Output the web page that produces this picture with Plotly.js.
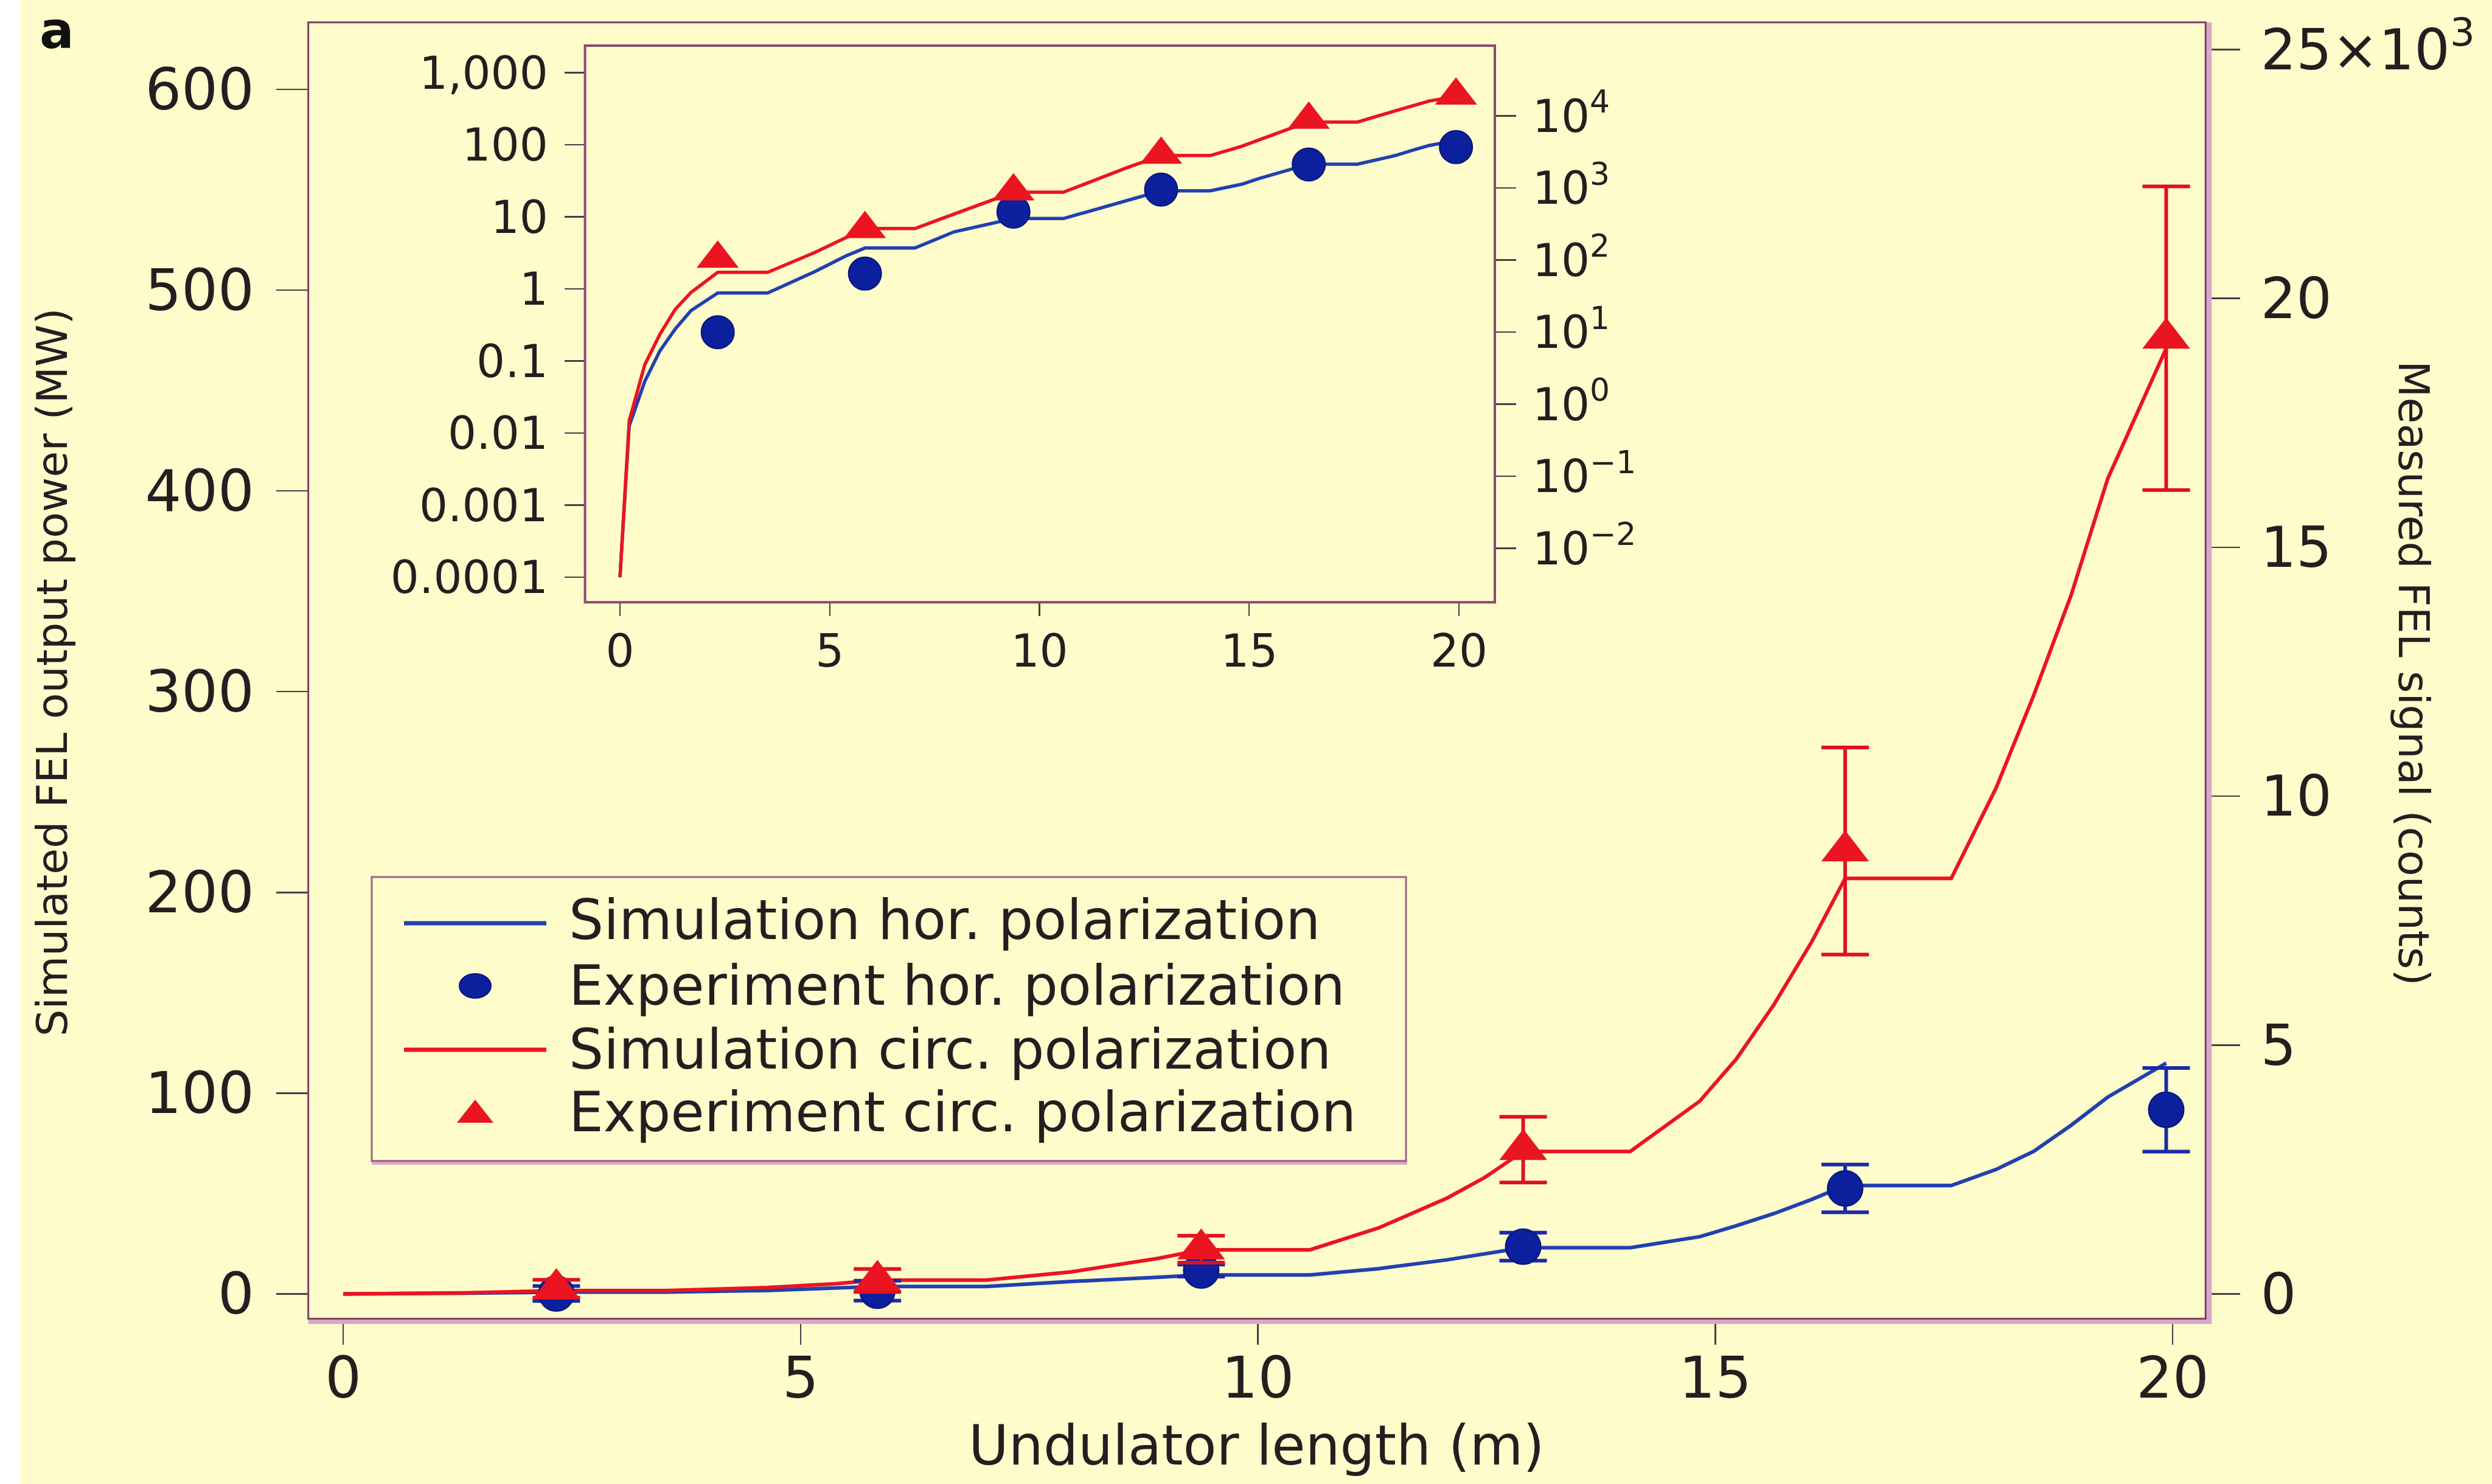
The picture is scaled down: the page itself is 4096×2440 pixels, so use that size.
<!DOCTYPE html>
<html>
<head>
<meta charset="utf-8">
<script src="https://cdn.plot.ly/plotly-3.0.1.min.js"></script>
<style>
  html, body { margin: 0; padding: 0; background: #fefccb; }
  #chart { width: 4096px; height: 2440px; }
</style>
</head>
<body>
<div id="chart"></div>
<script>
// ---- data -------------------------------------------------------------
// Undulator positions of the measurements (m)
const expLength = [2.33, 5.84, 9.38, 12.9, 16.42, 19.93];
// Measured FEL signal (counts) with error bars
const expHorCounts  = [10, 65, 470, 950, 2120, 3700];
const expHorError   = [150, 200, 120, 280, 480, 840];
const expCircCounts = [105, 270, 900, 2900, 8900, 19200];
const expCircError  = [180, 230, 270, 660, 2080, 3050];

// Simulated FEL output power along the undulator (MW)
const simLength = [0, 0.22, 0.59, 0.95, 1.32, 1.69, 2.33, 3.52, 4.64, 5.38, 5.84, 7.03,
                   7.96, 8.92, 9.38, 10.57, 11.32, 12.07, 12.48, 12.9, 14.07, 14.83, 15.23,
                   15.64, 16.05, 16.42, 17.58, 18.07, 18.48, 18.89, 19.29, 19.93];
const simHorMW  = [0.0001, 0.0126, 0.052, 0.138, 0.28, 0.50, 0.88, 0.88, 1.74, 2.87, 3.7, 3.7,
                   6.2, 8.3, 9.5, 9.5, 12.6, 17.0, 20.0, 23, 23, 28.5, 34,
                   40, 47, 54, 54, 62, 71, 84, 98, 115];
const simCircMW = [0.0001, 0.0148, 0.089, 0.234, 0.525, 0.89, 1.7, 1.7, 3.2, 5.1, 6.9, 6.9,
                   11, 17.8, 22, 22, 32.9, 47.8, 58, 71, 71, 96, 117,
                   144, 175, 207, 207, 252, 298, 348, 406, 471];

// Tick values and labels
const lengthTicks     = [0, 5, 10, 15, 20];
const powerTicks      = [0, 100, 200, 300, 400, 500, 600];
const signalTicks     = [0, 5000, 10000, 15000, 20000, 25000];
const signalTickText  = ['0', '5', '10', '15', '20', '25\u00d710<sup>3</sup>'];
const logPowerTicks   = [0.0001, 0.001, 0.01, 0.1, 1, 10, 100, 1000];
const logPowerText    = ['0.0001', '0.001', '0.01', '0.1', '1', '10', '100', '1,000'];
const logSignalTicks  = [0.01, 0.1, 1, 10, 100, 1000, 10000];
const logSignalText   = ['10<sup>\u22122</sup>', '10<sup>\u22121</sup>', '10<sup>0</sup>',
                         '10<sup>1</sup>', '10<sup>2</sup>', '10<sup>3</sup>', '10<sup>4</sup>'];
const legendLabels = ['Simulation hor. polarization', 'Experiment hor. polarization',
                      'Simulation circ. polarization', 'Experiment circ. polarization'];

// ---- styling ----------------------------------------------------------
const W = 4096, H = 2440;
const px = v => v / W;          // pixel -> paper x
const py = v => 1 - v / H;      // pixel (from top) -> paper y
const FONT = 'DejaVu Sans, Noto Sans, sans-serif';
const INK = '#231f20';
const TICK = '#4b3a44';
const FRAME = '#7b3f62';
const SHADOW = '#d8a8c8';
const BG = '#fefccb';
const RED = '#ea1520';
const BLUE_LINE = '#2140b0';
const BLUE_MARK = '#0c209e';

const mainBox  = {x0: 506.7, x1: 3625.3, y0: 36.7, y1: 2168.2};
const insetBox = {x0: 961.6, x1: 2457.0, y0: 75.0, y1: 990.3};
const legBox   = {x0: 611, x1: 2311, y0: 1442, y1: 1909};

function axisBase(extra) {
  return Object.assign({
    showgrid: false, zeroline: false, showline: false,
    ticks: 'outside', tickwidth: 2.5, tickcolor: TICK,
    tickmode: 'array', fixedrange: true
  }, extra);
}

// ---- traces -----------------------------------------------------------
const traces = [
  // main panel, linear scale
  {x: simLength, y: simHorMW, xaxis: 'x', yaxis: 'y', mode: 'lines',
   line: {color: BLUE_LINE, width: 6}, showlegend: false},
  {x: simLength, y: simCircMW, xaxis: 'x', yaxis: 'y', mode: 'lines',
   line: {color: RED, width: 6}, showlegend: false},
  {x: expLength, y: expHorCounts, xaxis: 'x', yaxis: 'y2', mode: 'markers',
   marker: {symbol: 'circle', size: 58, color: BLUE_MARK, line: {color: '#06157a', width: 2}},
   error_y: {type: 'data', array: expHorError, visible: true, color: '#1a2aa8', thickness: 6, width: 39},
   showlegend: false},
  {x: expLength, y: expCircCounts, xaxis: 'x', yaxis: 'y2', mode: 'markers',
   marker: {symbol: 'triangle-up', size: 68, color: RED, line: {width: 0}},
   error_y: {type: 'data', array: expCircError, visible: true, color: '#e01020', thickness: 6, width: 39},
   showlegend: false},
  // inset, logarithmic scale
  {x: simLength, y: simHorMW, xaxis: 'x3', yaxis: 'y3', mode: 'lines',
   line: {color: BLUE_LINE, width: 5.5}, showlegend: false},
  {x: simLength, y: simCircMW, xaxis: 'x3', yaxis: 'y3', mode: 'lines',
   line: {color: RED, width: 5.5}, showlegend: false},
  {x: expLength, y: expHorCounts, xaxis: 'x3', yaxis: 'y4', mode: 'markers',
   marker: {symbol: 'circle', size: 54, color: BLUE_MARK, line: {color: '#06157a', width: 2}},
   showlegend: false},
  {x: expLength, y: expCircCounts, xaxis: 'x3', yaxis: 'y4', mode: 'markers',
   marker: {symbol: 'triangle-up', size: 60, color: RED, line: {width: 0}},
   showlegend: false}
];

// ---- frames, legend box ----------------------------------------------
function line(x0, y0, x1, y1, color, width) {
  return {type: 'line', xref: 'paper', yref: 'paper', x0: px(x0), y0: py(y0), x1: px(x1), y1: py(y1),
          line: {color: color, width: width}, layer: 'above'};
}
function rect(b, color, width) {
  return {type: 'rect', xref: 'paper', yref: 'paper', x0: px(b.x0), x1: px(b.x1), y0: py(b.y1), y1: py(b.y0),
          line: {color: color, width: width}, fillcolor: 'rgba(0,0,0,0)', layer: 'above'};
}

const shapes = [
  {type: 'rect', xref: 'paper', yref: 'paper', x0: 0, x1: px(32.5), y0: 0, y1: 1,
   fillcolor: '#ffffff', line: {width: 0}, layer: 'below'},
  // main frame with its shaded bottom and right edges
  line(mainBox.x0, 2172, mainBox.x1 + 6, 2172, SHADOW, 10),
  line(mainBox.x1 + 5, mainBox.y0, mainBox.x1 + 5, 2177, SHADOW, 10),
  rect(mainBox, FRAME, 3),
  // inset frame
  rect(insetBox, '#8b4a6e', 4),
  // legend frame
  line(legBox.x0, legBox.y1 + 2, legBox.x1 + 2, legBox.y1 + 2, SHADOW, 8),
  rect(legBox, '#a0608a', 3),
  // legend samples
  line(664, 1518, 898, 1518, BLUE_LINE, 7),
  line(664, 1726, 898, 1726, RED, 7),
  {type: 'circle', xref: 'paper', yref: 'paper', xsizemode: 'pixel', ysizemode: 'pixel',
   xanchor: px(781), yanchor: py(1621), x0: -26, x1: 26, y0: -20, y1: 20,
   fillcolor: BLUE_MARK, line: {color: '#06157a', width: 2}, layer: 'above'},
  {type: 'path', xref: 'paper', yref: 'paper', xsizemode: 'pixel', ysizemode: 'pixel',
   xanchor: px(781), yanchor: py(1833), path: 'M -30 -13 L 30 -13 L 0 25 Z',
   fillcolor: RED, line: {width: 0}, layer: 'above'}
];

// ---- text -------------------------------------------------------------
const legendRows = [1513, 1620, 1725, 1828];
const annotations = legendLabels.map((t, i) => ({
  text: t, xref: 'paper', yref: 'paper', x: px(933), y: py(legendRows[i]),
  xanchor: 'left', yanchor: 'middle', showarrow: false,
  font: {family: FONT, size: 90, color: INK}
}));
annotations.push(
  {text: '<b>a</b>', xref: 'paper', yref: 'paper', x: px(93), y: py(50), xanchor: 'center', yanchor: 'middle',
   showarrow: false, font: {family: FONT, size: 84, color: '#111111'}},
  {text: 'Undulator length (m)', xref: 'paper', yref: 'paper', x: px(2065), y: py(2376),
   xanchor: 'center', yanchor: 'middle', showarrow: false, font: {family: FONT, size: 90, color: INK}},
  {text: 'Simulated FEL output power (MW)', xref: 'paper', yref: 'paper', x: px(86), y: py(1105),
   xanchor: 'center', yanchor: 'middle', textangle: -90, showarrow: false,
   font: {family: FONT, size: 70, color: INK}},
  {text: 'Measured FEL signal (counts)', xref: 'paper', yref: 'paper', x: px(3967), y: py(1107),
   xanchor: 'center', yanchor: 'middle', textangle: 90, showarrow: false,
   font: {family: FONT, size: 70, color: INK}}
);

// ---- layout -----------------------------------------------------------
const mainFont = {family: FONT, size: 94, color: INK};
const rightFont = {family: FONT, size: 92, color: INK};
const insetFont = {family: FONT, size: 74, color: INK};

const layout = {
  width: W, height: H,
  margin: {l: 0, r: 0, t: 0, b: 0, pad: 0},
  paper_bgcolor: BG, plot_bgcolor: 'rgba(0,0,0,0)',
  showlegend: false,
  xaxis: axisBase({domain: [px(mainBox.x0), px(mainBox.x1)], range: [-0.382, 20.361], anchor: 'y',
    tickvals: lengthTicks, ticklen: 42, tickfont: mainFont, ticklabelstandoff: -26}),
  yaxis: axisBase({domain: [py(mainBox.y1), py(mainBox.y0)], range: [-12.33, 633.4], anchor: 'x',
    tickvals: powerTicks, ticklen: 52, tickfont: mainFont, ticklabelstandoff: 17}),
  yaxis2: axisBase({overlaying: 'y', side: 'right', anchor: 'x', range: [-497, 25548],
    tickvals: signalTicks, ticktext: signalTickText, ticklen: 56, tickfont: rightFont, ticklabelstandoff: 15}),
  xaxis3: axisBase({domain: [px(insetBox.x0), px(insetBox.x1)], range: [-0.833, 20.856], anchor: 'y3',
    tickvals: lengthTicks, ticklen: 22, tickfont: insetFont, ticklabelstandoff: -6}),
  yaxis3: axisBase({type: 'log', domain: [py(insetBox.y1), py(insetBox.y0)], range: [-4.347, 3.377],
    anchor: 'x3', tickvals: logPowerTicks, ticktext: logPowerText, ticklen: 33, tickfont: insetFont,
    ticklabelstandoff: 12}),
  yaxis4: axisBase({type: 'log', overlaying: 'y3', side: 'right', anchor: 'x3', range: [-2.748, 4.976],
    tickvals: logSignalTicks, ticktext: logSignalText, ticklen: 34, tickfont: insetFont,
    ticklabelstandoff: 12}),
  shapes: shapes,
  annotations: annotations
};

Plotly.newPlot('chart', traces, layout, {staticPlot: true, displayModeBar: false});
</script>
</body>
</html>
